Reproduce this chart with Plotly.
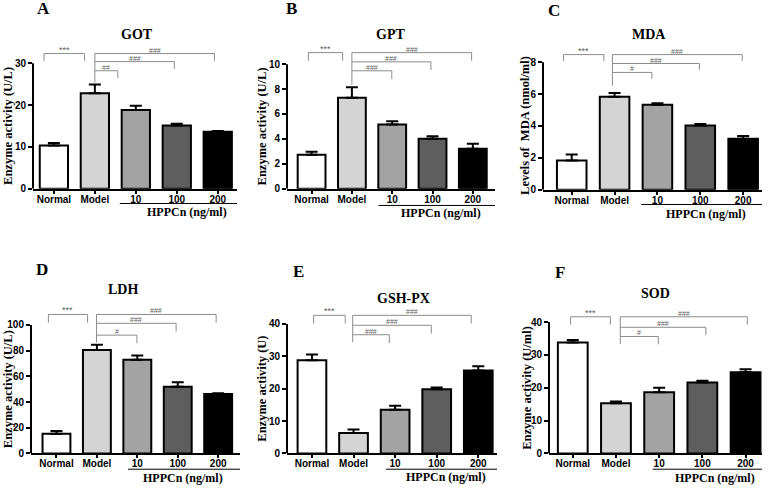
import plotly.graph_objects as go

# groups on the x axis
groups = ["Normal", "Model", "10", "100", "200"]
bar_colors = ["#ffffff", "#d4d4d4", "#a3a3a3", "#5e5e5e", "#000000"]

# mean and SEM
got_mean = [10.3, 22.8, 18.8, 15.1, 13.6]
got_sem = [0.6, 2.1, 1.0, 0.4, 0.2]
gpt_mean = [2.72, 7.3, 5.16, 4.02, 3.2]
gpt_sem = [0.25, 0.85, 0.26, 0.2, 0.4]
mda_mean = [1.83, 5.84, 5.33, 4.03, 3.19]
mda_sem = [0.37, 0.23, 0.1, 0.09, 0.18]
ldh_mean = [15.3, 80.6, 72.9, 51.9, 46.3]
ldh_sem = [2.1, 4.1, 3.3, 3.6, 0.5]
gshpx_mean = [28.8, 6.3, 13.5, 19.85, 25.65]
gshpx_sem = [1.8, 1.1, 1.2, 0.5, 1.3]
sod_mean = [33.8, 15.3, 18.6, 21.6, 24.7]
sod_sem = [0.7, 0.5, 1.4, 0.5, 0.9]

# significance: Normal vs Model, then Model vs 10 / 100 / 200
got_sig = ["***", "##", "###", "###"]
gpt_sig = ["***", "###", "###", "###"]
mda_sig = ["***", "#", "###", "###"]
ldh_sig = ["***", "#", "###", "###"]
gshpx_sig = ["***", "###", "###", "###"]
sod_sig = ["***", "#", "###", "###"]

titles = ["GOT", "GPT", "MDA", "LDH", "GSH-PX", "SOD"]
letters = ["A", "B", "C", "D", "E", "F"]
ytitles = ["Enzyme activity (U/L)", "Enzyme activity (U/L)",
           "Levels of  MDA (nmol/ml)", "Enzyme activity (U/L)",
           "Enzyme activity (U)", "Enzyme activity (U/ml)"]
ymaxes = [30, 10, 8, 100, 40, 40]
dticks = [10, 2, 2, 20, 10, 10]
means = [got_mean, gpt_mean, mda_mean, ldh_mean, gshpx_mean, sod_mean]
sems = [got_sem, gpt_sem, mda_sem, ldh_sem, gshpx_sem, sod_sem]
sigs = [got_sig, gpt_sig, mda_sig, ldh_sig, gshpx_sig, sod_sig]

W, H = 772, 492
HEAD = 1.2  # extra room above the top tick for the brackets

# layout in pixels: left, right, y of 0, y of top tick, x range
geom = [
    dict(l=33, r=237, y0=191, yt=64, xr=[-0.51, 4.47]),
    dict(l=287, r=495, y0=191, yt=65, xr=[-0.61, 4.55]),
    dict(l=543, r=762, y0=192, yt=63, xr=[-0.67, 4.44]),
    dict(l=31, r=240, y0=459, yt=329, xr=[-0.63, 4.54]),
    dict(l=287, r=497, y0=459, yt=328, xr=[-0.6, 4.45]),
    dict(l=549, r=762, y0=459, yt=326, xr=[-0.55, 4.38]),
]
# label positions in pixels
title_pos = [(137, 35), (390, 35), (649, 35), (123, 293), (403, 302), (655, 297)]
letter_pos = [(43, 9), (291, 9), (554, 11), (42, 273), (298, 275), (560, 276)]
ytitle_x = [8, 262, 525, 8, 262, 527]
# HPPCn underline: x start, x end, offsets below zero line (px); text x
hppcn = [
    dict(x0=1.61, x1=4.47, dl=15, dt=24, xt=3.25),
    dict(x0=1.66, x1=4.55, dl=17, dt=25, xt=3.22),
    dict(x0=1.62, x1=4.44, dl=15, dt=25, xt=3.13),
    dict(x0=1.77, x1=4.58, dl=16, dt=25, xt=3.14),
    dict(x0=1.78, x1=4.5, dl=16, dt=24, xt=3.23),
    dict(x0=1.85, x1=4.5, dl=16, dt=25, xt=3.3),
]
# brackets (fractions of top tick): top, mid, low, stem bottom, drop
brk = [
    dict(lv=[1.077, 1.013, 0.94], sb=0.847, d=0.058, a=-0.24, b=0.75, s=1.0, e=[1.56, 2.94, 3.92]),
    dict(lv=[1.093, 1.019, 0.947], sb=0.833, d=0.066, a=-0.08, b=0.77, s=1.0, e=[1.99, 2.96, 3.97]),
    dict(lv=[1.06, 0.99, 0.92], sb=0.815, d=0.05, a=-0.19, b=0.75, s=0.95, e=[1.87, 2.98, 3.98]),
    dict(lv=[1.082, 1.013, 0.921], sb=0.864, d=0.064, a=-0.2, b=0.77, s=0.99, e=[1.99, 2.96, 3.95]),
    dict(lv=[1.067, 0.99, 0.917], sb=0.86, d=0.064, a=0.04, b=0.8, s=0.98, e=[1.86, 2.87, 3.83]),
    dict(lv=[1.04, 0.96, 0.89], sb=0.833, d=0.06, a=-0.05, b=0.87, s=1.1, e=[1.98, 3.08, 4.04]),
]

serif = "Liberation Serif"
sans = "Liberation Sans"
gray = "#8c8c8c"
sig_color = "#606060"

fig = go.Figure()
shapes = []
annotations = []
layout = {}

for i in range(6):
    g = geom[i]
    ax = "" if i == 0 else str(i + 1)
    xref, yref = "x" + ax, "y" + ax
    ymax = ymaxes[i]
    top_px = g["y0"] - (g["y0"] - g["yt"]) * HEAD

    fig.add_trace(go.Bar(
        x=groups, y=means[i], xaxis=xref, yaxis=yref,
        marker=dict(color=bar_colors, line=dict(color="black", width=2)),
        width=0.69,
        error_y=dict(type="data", array=sems[i], arrayminus=[0] * 5,
                     symmetric=False, color="black", thickness=2, width=6),
        showlegend=False,
    ))

    layout["xaxis" + ax] = dict(
        domain=[g["l"] / W, g["r"] / W], anchor=yref, type="category",
        range=g["xr"], showline=True, linecolor="black", linewidth=2,
        ticks="outside", ticklen=3, tickwidth=1.5, tickcolor="black",
        ticklabelstandoff=-3,
        tickfont=dict(family=sans, size=10, color="black", weight="bold"),
        showgrid=False, zeroline=False, fixedrange=True,
    )
    layout["yaxis" + ax] = dict(
        domain=[1 - g["y0"] / H, 1 - top_px / H], anchor=xref,
        range=[0, ymax * HEAD], tickvals=list(range(0, ymax + 1, dticks[i])),
        showline=False, ticks="outside", ticklen=4, tickwidth=2,
        tickcolor="black",
        tickfont=dict(family=sans, size=10, color="black", weight="bold"),
        showgrid=False, zeroline=False, fixedrange=True,
    )

    # y axis line only up to the top tick
    shapes.append(dict(type="line", xref=xref + " domain", yref=yref,
                       x0=0, x1=0, y0=0, y1=ymax,
                       line=dict(color="black", width=2)))

    # significance brackets
    b = brk[i]
    lv = [v * ymax for v in b["lv"]]
    d = b["d"] * ymax
    sig = sigs[i]
    line = dict(color=gray, width=1)
    shapes += [
        dict(type="line", xref=xref, yref=yref, x0=b["a"], x1=b["a"], y0=lv[0] - d, y1=lv[0], line=line),
        dict(type="line", xref=xref, yref=yref, x0=b["a"], x1=b["b"], y0=lv[0], y1=lv[0], line=line),
        dict(type="line", xref=xref, yref=yref, x0=b["b"], x1=b["b"], y0=lv[0] - d, y1=lv[0], line=line),
        dict(type="line", xref=xref, yref=yref, x0=b["s"], x1=b["s"], y0=b["sb"] * ymax, y1=lv[0], line=line),
    ]
    annotations.append(dict(xref=xref, yref=yref, x=(b["a"] + b["b"]) / 2, y=lv[0],
                            text=sig[0], showarrow=False, xanchor="center",
                            yanchor="bottom", yshift=-3,
                            font=dict(family=sans, size=9, color=sig_color)))
    for k in range(3):
        yk = lv[k]
        xe = b["e"][2 - k]
        shapes += [
            dict(type="line", xref=xref, yref=yref, x0=b["s"], x1=xe, y0=yk, y1=yk, line=line),
            dict(type="line", xref=xref, yref=yref, x0=xe, x1=xe, y0=yk - d, y1=yk, line=line),
        ]
        annotations.append(dict(xref=xref, yref=yref, x=(b["s"] + xe) / 2, y=yk,
                                text=sig[3 - k], showarrow=False, xanchor="center",
                                yanchor="bottom", yshift=-2,
                                font=dict(family=sans, size=7, color=sig_color)))

    # HPPCn group underline and label
    h = hppcn[i]
    shapes.append(dict(type="line", xref=xref, yref="paper", x0=h["x0"], x1=h["x1"],
                       y0=1 - (g["y0"] + h["dl"]) / H, y1=1 - (g["y0"] + h["dl"]) / H,
                       line=dict(color="black", width=1)))
    annotations.append(dict(xref=xref, yref="paper", x=h["xt"], y=1 - (g["y0"] + h["dt"]) / H,
                            text="HPPCn (ng/ml)", showarrow=False,
                            xanchor="center", yanchor="middle",
                            font=dict(family=serif, size=12, color="black", weight="bold")))

    # titles, letters, y titles
    tx, ty = title_pos[i]
    annotations.append(dict(xref="paper", yref="paper", x=tx / W, y=1 - ty / H,
                            text=titles[i], showarrow=False,
                            xanchor="center", yanchor="middle",
                            font=dict(family=serif, size=14, color="black", weight="bold")))
    lx, ly = letter_pos[i]
    annotations.append(dict(xref="paper", yref="paper", x=lx / W, y=1 - ly / H,
                            text=letters[i], showarrow=False,
                            xanchor="center", yanchor="middle",
                            font=dict(family=serif, size=17, color="black", weight="bold")))
    annotations.append(dict(xref="paper", yref="paper", x=ytitle_x[i] / W,
                            y=1 - (g["y0"] + g["yt"]) / 2 / H, text=ytitles[i],
                            textangle=-90, showarrow=False,
                            xanchor="center", yanchor="middle",
                            font=dict(family=serif, size=12.5, color="black", weight="bold")))

fig.update_layout(
    width=W, height=H, autosize=False,
    margin=dict(l=0, r=0, t=0, b=0),
    paper_bgcolor="white", plot_bgcolor="white",
    shapes=shapes, annotations=annotations,
    bargap=0.3, **layout,
)

# drop the browser's default page margin so the figure sits at 0,0
fig.write_html("out.html", config={"displayModeBar": False},
               post_script="document.body.style.margin='0';")
